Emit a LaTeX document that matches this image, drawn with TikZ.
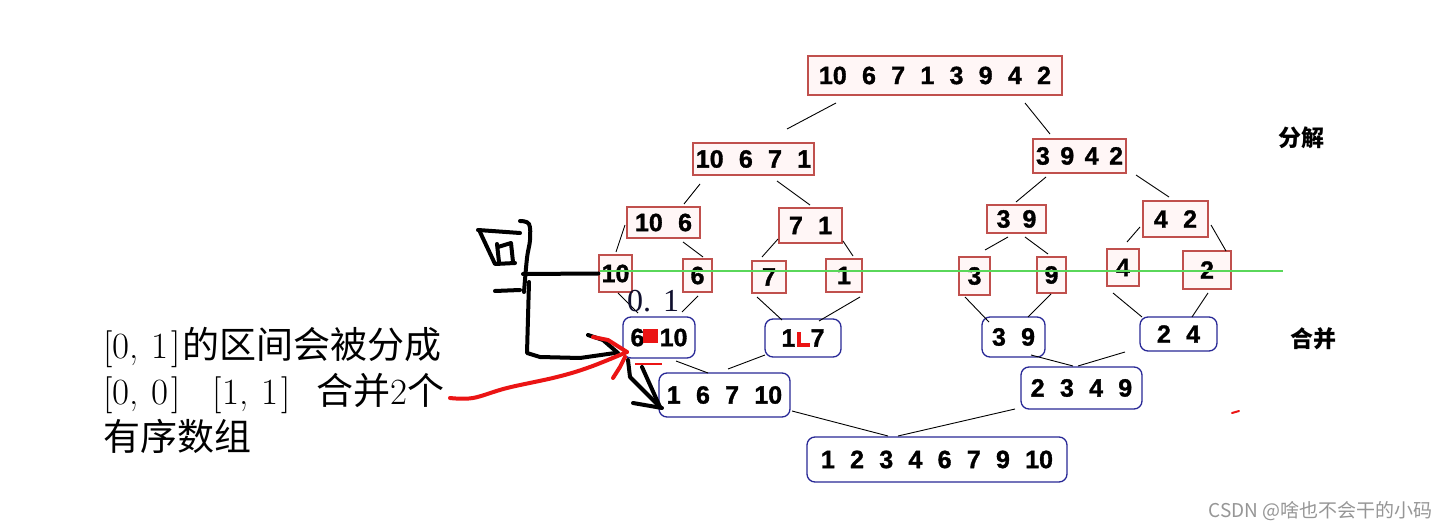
\documentclass[tikz,border=0pt]{standalone}
\usepackage{fontspec}
\newfontfamily\numfont[WordSpace=2.2, BoldFeatures={FakeBold=1.3}]{Liberation Sans}
\newfontfamily\cjkfont{Noto Sans CJK SC}
\newfontfamily\lblfont{Liberation Serif}
\usetikzlibrary{calc}
\definecolor{redbox}{RGB}{192,80,77}
\definecolor{bluebox}{RGB}{40,40,150}
\definecolor{hlgreen}{RGB}{90,215,90}
\definecolor{inkred}{RGB}{235,20,20}
\definecolor{navy}{RGB}{15,15,45}
\definecolor{wmgray}{RGB}{150,150,150}
\definecolor{pinkfill}{RGB}{255,246,246}
\newcommand\conline[6]{\draw[conn] ([shift={(#2,#3)}]#1.center) -- ([shift={(#5,#6)}]#4.center);}
\newcommand\brpair[2]{[#1,\hspace{13pt}#2\hspace{3pt}]}
\begin{document}
\begin{tikzpicture}[x=1pt,y=-1pt,
  numtxt/.style={font=\numfont\bfseries\fontsize{25}{25}\selectfont, inner sep=0pt, text=black},
  split/.style={numtxt, draw=redbox, line width=1.3pt, fill=pinkfill},
  merge/.style={numtxt, draw=bluebox, line width=1.3pt, rounded corners=8pt, fill=white},
  conn/.style={draw=black, line width=0.9pt},
  ink/.style={line width=4pt, line cap=round, line join=round},
  lefttxt/.style={anchor=base west, inner sep=0pt, font=\fontsize{37}{40}\selectfont, text=black},
]
\fill[white] (0,0) rectangle (1446,529);
\useasboundingbox (0,0) rectangle (1446,529);

% split boxes
\node[split, minimum width=254pt, minimum height=39pt] (top) at (935,75.5) {10 6 7 1 3 9 4 2};
\node[split, minimum width=121pt, minimum height=32pt] (b1) at (753.5,159) {10 6 7 1};
\node[split, minimum width=93pt, minimum height=34pt] (b2) at (1079.5,156) {\spaceskip=10.5pt 3 9 4 2};
\node[split, minimum width=73pt, minimum height=31pt] (c1) at (663.5,222.5) {10 6};
\node[split, minimum width=63pt, minimum height=35pt] (c2) at (810.5,225.5) {7 1};
\node[split, minimum width=59pt, minimum height=28pt] (c3) at (1016.5,219) {\spaceskip=12pt 3 9};
\node[split, minimum width=65pt, minimum height=36pt] (c4) at (1175.5,219) {4 2};
\node[split, minimum width=33pt, minimum height=37pt] (d1) at (615.5,273.5) {10};
\node[split, minimum width=29pt, minimum height=33pt] (d2) at (697.5,275.5) {6};
\node[split, minimum width=34pt, minimum height=32pt] (d3) at (769,277) {7};
\node[split, minimum width=36pt, minimum height=33pt] (d4) at (844,275.5) {1};
\node[split, minimum width=31pt, minimum height=38pt] (d5) at (974.5,276) {3};
\node[split, minimum width=29pt, minimum height=36pt] (d6) at (1051.5,275) {9};
\node[split, minimum width=32pt, minimum height=37pt] (d7) at (1123,267.5) {4};
\node[split, minimum width=48pt, minimum height=38pt] (d8) at (1207,270) {2};

% merge boxes
\node[merge, minimum width=72pt, minimum height=41pt] (e1) at (659,337.5) {6 10};
\node[merge, minimum width=76pt, minimum height=38pt] (e2) at (803,338) {1 7};
\node[merge, minimum width=63pt, minimum height=40pt] (e3) at (1013.5,337) {3 9};
\node[merge, minimum width=77pt, minimum height=34pt] (e4) at (1178.5,334) {2 4};
\node[merge, minimum width=131pt, minimum height=44pt] (f1) at (724.5,395) {1 6 7 10};
\node[merge, minimum width=121pt, minimum height=42pt] (f2) at (1081.5,388) {2 3 4 9};
\node[merge, minimum width=260pt, minimum height=45pt] (g) at (937,459.5) {1 2 3 4 6 7 9 10};

% connectors
\conline{top}{-99}{27.5}{b1}{33.5}{-30}
\conline{top}{90}{27.5}{b2}{-29.5}{-22}
\conline{b1}{-53.5}{25}{c1}{20.5}{-18.5}
\conline{b1}{23.5}{22}{c2}{-0.5}{-20.5}
\conline{b2}{-33.5}{21}{c3}{-0.5}{-17}
\conline{b2}{56.5}{19}{c4}{-6.5}{-22}
\conline{c1}{-38.5}{2.5}{d1}{0.5}{-21.5}
\conline{c1}{19.5}{19.5}{d2}{5.5}{-18.5}
\conline{c2}{-32.5}{13.5}{d3}{-7}{-20}
\conline{c2}{32.5}{15.5}{d4}{9}{-19.5}
\conline{c3}{-8.5}{18}{d5}{10.5}{-26}
\conline{c3}{8.5}{18}{d6}{-3.5}{-21}
\conline{c4}{-35.5}{8}{d7}{4}{-25.5}
\conline{c4}{35.5}{6}{d8}{19}{-19}
\conline{d1}{2.5}{19.5}{e1}{-21}{-24.5}
\conline{d2}{0.5}{20.5}{e1}{23}{-25.5}
\conline{d3}{-12}{20}{e2}{-21}{-18}
\conline{d4}{16}{21.5}{e2}{16}{-17}
\conline{d5}{-9.5}{21}{e3}{-24.5}{-15}
\conline{d6}{-0.5}{19}{e3}{14.5}{-20}
\conline{d7}{-10}{25.5}{e4}{-36.5}{-17}
\conline{d8}{1}{23}{e4}{13.5}{-17}
\conline{e1}{17}{23.5}{f1}{-16.5}{-22}
\conline{e2}{-38}{17}{f1}{3.5}{-26}
\conline{e3}{17.5}{18}{f2}{-8.5}{-22}
\conline{e4}{-53.5}{18}{f2}{-3.5}{-22}
\conline{f1}{67.5}{16}{g}{-49}{-23.5}
\conline{f2}{-66.5}{21}{g}{-39}{-23.5}

% green line
\coordinate (gS) at (600,271);
\coordinate (gE) at (1283,271);
\draw[hlgreen, line width=1.2pt] (gS) -- (gE);

% labels
\node[font=\cjkfont\bfseries\fontsize{23}{23}\selectfont] (fj) at (1301,138) {分解};
\node[font=\cjkfont\bfseries\fontsize{23}{23}\selectfont] (hb) at (1313,339) {合并};
\node[anchor=base west, inner sep=0pt, font=\lblfont\fontsize{32}{32}\selectfont, text=navy] (lbl) at (627,312) {0.\hspace{12pt}1};

% left text
\node[lefttxt] (t1) at (103,359) {\brpair{0}{1}\hspace{2pt}{\cjkfont 的区间会被分成}};
\node[lefttxt] (t2) at (103,404) {\brpair{0}{0}\hspace{32pt}\brpair{1}{1}\hspace{26pt}{\cjkfont 合并}2{\cjkfont 个}};
\node[lefttxt] (t3) at (103,450) {{\cjkfont 有序数组}};

% watermark
\node[anchor=east, inner sep=0pt, font=\cjkfont\fontsize{19}{19}\selectfont, text=wmgray] (wm) at (1433,511) {CSDN @啥也不会干的小码};

% handwriting (black)
\draw[ink] (478,230) -- (520,233);
\draw[ink] (480,232) -- (495,264) -- (515,263);
\draw[ink] (497,244) -- (499,262);
\draw[ink] (498,247) -- (511,243) -- (513,262);
\draw[ink] plot[smooth, tension=0.6] coordinates {(520,221) (529,224) (530,240) (527,258) (524,292)};
\draw[ink] (495,291) -- (520,290);
\coordinate (hS) at (523,274);
\draw[ink] (hS) -- (d1.west);
\draw[ink] (529,282) -- (527,353) -- (540,357) -- (580,358) -- (615,353);
\draw[ink] (588,335) -- (603,340) -- (618,353);
\draw[ink] (628,360) -- (630,377) -- (660,407);
\draw[ink] (642,367) -- (660,407);
\draw[ink] (633,403) -- (662,408);

% handwriting (red)
\draw[ink, inkred] plot[smooth, tension=0.6] coordinates {(450,398) (473,398) (507,388) (557,377) (590,367) (627,352)};
\draw[ink, inkred] (593,337) -- (608,340) -- (627,352);
\draw[ink, inkred] (613,378) -- (620,367) -- (625,357);
\fill[inkred] (643,329) rectangle (658,343);
\fill[inkred] (797,332) rectangle (801,347);
\fill[inkred] (797,343) rectangle (810,347);
\draw[inkred, line width=1.5pt] (635,364) -- (662,364);
\draw[inkred, line width=2pt, line cap=round] (1232,413) -- (1239,411);
\end{tikzpicture}
\end{document}
